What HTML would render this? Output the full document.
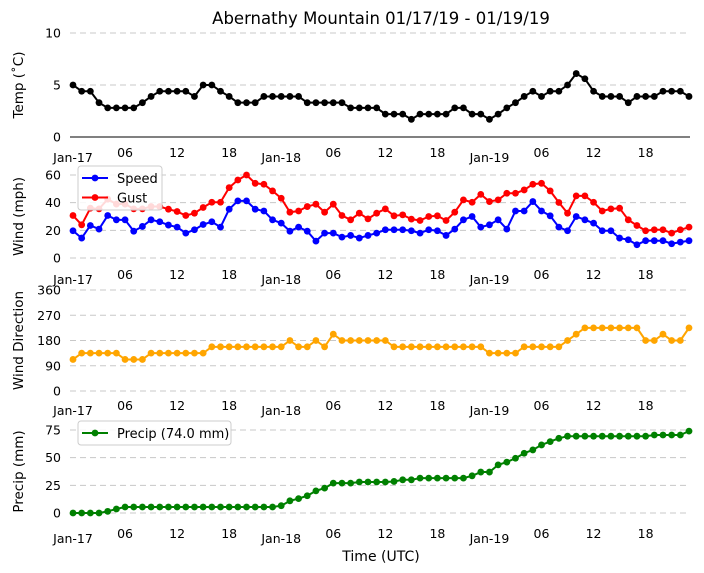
<!DOCTYPE html>
<html><head><meta charset="utf-8"><style>
body{margin:0;background:#fff;}
svg{display:block;font-family:"DejaVu Sans","Liberation Sans",sans-serif;}
</style></head><body>
<svg id="fig" width="704" height="573" viewBox="0 0 704 573" xmlns="http://www.w3.org/2000/svg">
<rect width="704" height="573" fill="#fff"/>
<text x="381" y="24" font-size="16.5" text-anchor="middle">Abernathy Mountain 01/17/19 - 01/19/19</text>
<g id="plots"></g>
<text x="381" y="561" font-size="14" text-anchor="middle">Time (UTC)</text>
</svg>
<script>
const hours = Array.from({length:72},(_,i)=>i);
const xTickLabels = ["Jan-17","06","12","18","Jan-18","06","12","18","Jan-19","06","12","18"];
const temp = [5,4.4,4.4,3.3,2.8,2.8,2.8,2.8,3.3,3.9,4.4,4.4,4.4,4.4,3.9,5,5,4.4,3.9,3.3,3.3,3.3,3.9,3.9,3.9,3.9,3.9,3.3,3.3,3.3,3.3,3.3,2.8,2.8,2.8,2.8,2.2,2.2,2.2,1.7,2.2,2.2,2.2,2.2,2.8,2.8,2.2,2.2,1.7,2.2,2.8,3.3,3.9,4.4,3.9,4.4,4.4,5,6.1,5.6,4.4,3.9,3.9,3.9,3.3,3.9,3.9,3.9,4.4,4.4,4.4,3.9];
const speed = [19.7,14.4,23.5,20.9,30.7,27.6,27.6,19.4,22.8,27.6,26.2,23.8,22.3,18,20.4,24.2,26.2,22.3,35.3,41.3,41.3,35.3,34,27.6,25.2,19.4,22.3,19.4,12.2,18,18,15.1,16.3,14.4,16.3,18,20.4,20.4,20.4,19.7,18,20.4,19.7,16.3,20.9,27.6,30,22.3,24,27.6,20.9,34,34,40.8,34,30.5,22.3,19.7,30,27.6,25.2,19.7,19.7,14.4,13.2,9.6,12.5,12.5,12.5,10.3,11.5,12.5];
const gust = [30.7,24,36,35.5,42.5,39,39,35.5,35.5,37.2,37.2,35.3,33.6,30.7,32.4,36.5,40.3,40.3,50.9,56.4,60,54,53.3,48.5,43.2,33.1,34,37.2,38.9,33.1,38.9,30.7,27.6,32.4,28.3,32.4,35.5,30.5,31.2,28.1,27.1,30,30.5,27.1,33.1,42,40.3,46,40.8,42,46.8,46.8,49.2,53.3,54,48.5,40.1,32.4,44.9,44.9,40.3,34,35.5,36,27.6,23.5,19.7,20.4,20.4,18,20.4,22.3];
const direction = [112.5,135,135,135,135,135,112.5,112.5,112.5,135,135,135,135,135,135,135,157.5,157.5,157.5,157.5,157.5,157.5,157.5,157.5,157.5,180,157.5,157.5,180,157.5,202.5,180,180,180,180,180,180,157.5,157.5,157.5,157.5,157.5,157.5,157.5,157.5,157.5,157.5,157.5,135,135,135,135,157.5,157.5,157.5,157.5,157.5,180,202.5,225,225,225,225,225,225,225,180,180,202.5,180,180,225];
const precip = [0,0,0,0,1.5,3.6,5.4,5.4,5.4,5.4,5.4,5.4,5.4,5.4,5.4,5.4,5.4,5.4,5.4,5.4,5.4,5.4,5.4,5.4,6.6,11,13,15.6,20,22.5,27,27,27,28,28,28,28,28.5,30,30,31.5,31.5,31.5,31.5,31.5,31.5,33.6,37,37,43.5,46,49.5,54,57,61.5,64.5,67.5,69.4,69.4,69.4,69.4,69.4,69.4,69.4,69.4,69.4,69.4,70.5,70.5,70.5,70.5,74];
const tempTicks=[0,5,10], windTicks=[0,20,40,60], dirTicks=[0,90,180,270,360], precipTicks=[0,25,50,75];

const NS="http://www.w3.org/2000/svg";
const root=document.getElementById('plots');
const X0=73, X1=689, AXL=70, AXR=690;
const xs=h=>X0+(h-hours[0])*(X1-X0)/71;
function mk(tag,attrs,parent){const e=document.createElementNS(NS,tag);for(const k in attrs)e.setAttribute(k,attrs[k]);(parent||root).appendChild(e);return e;}
function panel(name,y0,yTop,vmax,ticks,series,ylabel,xLabelY,spine){
  const g=mk('g',{});
  
  
  const ys=v=>y0-(v/vmax)*(y0-yTop);
  ticks.forEach(t=>{
    if(!(spine&&t===0)){const l=mk('line',{x1:AXL,x2:AXR,y1:ys(t),y2:ys(t),stroke:'#c8c8c8','stroke-dasharray':'6,4','stroke-width':1},g);
    
    }
    const tx=mk('text',{x:61,y:ys(t)+4.5,'font-size':12.5,'text-anchor':'end'},g);tx.textContent=t;
    
    
  });
  if(spine){const s=mk('line',{x1:AXL,x2:AXR,y1:y0,y2:y0,stroke:'#000','stroke-width':1},g);
    
    }
  const yl=mk('text',{x:0,y:0,'font-size':13.5,'text-anchor':'middle',transform:`translate(23,${(y0+yTop)/2}) rotate(-90)`},g);yl.textContent=ylabel;
  
  
  if(xLabelY){xTickLabels.forEach((lab,i)=>{const jan=lab.startsWith('Jan');const t=mk('text',{x:xs(i*6),y:xLabelY+(jan?5:0),'font-size':12.5,'text-anchor':'middle'},g);t.textContent=lab;
    
    });}
  series.forEach(s=>{
    const pts=s.data.map((v,i)=>xs(hours[i])+','+ys(v)).join(' ');
    const pl=mk('polyline',{points:pts,fill:'none',stroke:s.color,'stroke-width':2,'stroke-linejoin':'round'},g);
    
    
    s.data.forEach((v,i)=>{const c=mk('circle',{cx:xs(hours[i]),cy:ys(v),r:3.4,fill:s.color},g);
      
      });
  });
  return g;
}
panel('temp',137,33,10,tempTicks,[{data:temp,color:'#000',name:'temp'}],'Temp (˚C)',157,true);
panel('wind',258,175,60,windTicks,[{data:speed,color:'#0000ff',name:'speed'},{data:gust,color:'#ff0000',name:'gust'}],'Wind (mph)',279,false);
panel('direction',391,290,360,dirTicks,[{data:direction,color:'#ffa500',name:'direction'}],'Wind Direction',410,false);
panel('precip',513,430,75,precipTicks,[{data:precip,color:'#008000',name:'precip'}],'Precip (mm)',538,false);

function legend(name,x,y,w,entries){
  const g=mk('g',{});
  
  
  mk('rect',{x:x,y:y,width:w,height:entries.length*20+4,rx:3,fill:'#fff','fill-opacity':0.85,stroke:'#ccc'},g);
  entries.forEach((e,i)=>{const cy=y+12+i*19.5;
    mk('line',{x1:x+4,x2:x+30,y1:cy,y2:cy,stroke:e.c,'stroke-width':2},g);
    mk('circle',{cx:x+17,cy:cy,r:3.4,fill:e.c},g);
    const t=mk('text',{x:x+39,y:cy+5,'font-size':13},g);t.textContent=e.t;
    
    });
}
legend('wind-legend',78,166,84,[{c:'#0000ff',t:'Speed'},{c:'#ff0000',t:'Gust'}]);
legend('precip-legend',78,421,153,[{c:'#008000',t:'Precip (74.0 mm)'}]);
</script>
</body></html>
